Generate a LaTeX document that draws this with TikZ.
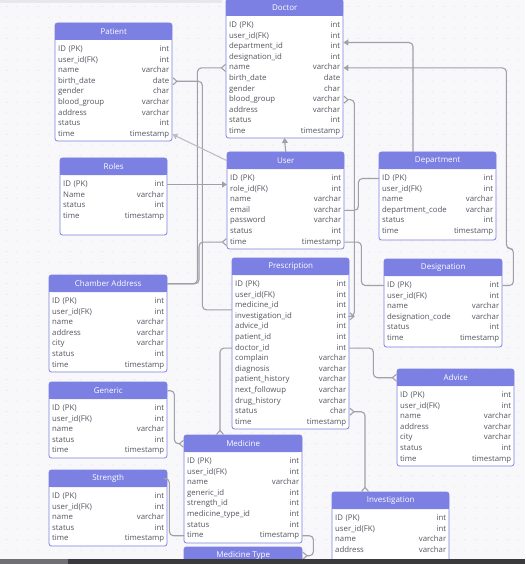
\documentclass[tikz,border=0pt]{standalone}
\usepackage{fontspec}
\setmainfont{Open Sans}
\usetikzlibrary{arrows.meta,calc}
\definecolor{hdcol}{RGB}{124,128,226}
\definecolor{txcol}{RGB}{84,84,96}
\definecolor{lncol}{RGB}{160,160,170}
\definecolor{bgcol}{RGB}{248,248,250}
\definecolor{dotcol}{RGB}{214,214,222}
\definecolor{topcol}{RGB}{232,232,236}
\definecolor{barcol}{RGB}{58,58,60}
\definecolor{barcolb}{RGB}{112,112,116}

\tikzset{
  hd/.style={inner sep=0pt, minimum height=17pt, text=white, font=\fontsize{8}{9}\selectfont},
  fld/.style={inner xsep=3pt, inner ysep=0pt, text height=6pt, text depth=2pt, align=left, text=txcol, font=\fontsize{7.8}{9}\selectfont},
  conn/.style={draw=lncol, line width=1.1pt, rounded corners=4pt},
  crow/.tip={Straight Barb[reversed,length=4pt,width=7pt]},
  tri/.tip={Triangle[length=5pt,width=6pt]}
}

% table frame and title
\newcommand{\erframe}[6]{%
  \filldraw[draw=hdcol, fill=white, line width=0.8pt, rounded corners=2.5pt] (#2,#3) rectangle ++(#4,#5);
  \fill[hdcol, rounded corners=2.5pt] (#2,#3) rectangle ++(#4,17);
  \fill[hdcol] (#2,#3+8) rectangle ++(#4,9);
  \node[hd, minimum width=#4pt, anchor=north west] (#1) at (#2,#3) {#6};
  \coordinate (#1-b) at (#2+#4/2,#3+#5);
}
% table with its rows
\newcommand{\ertab}[7]{%
  \erframe{#1}{#2}{#3}{#4}{#5}{#6}
  \pgfmathsetmacro\ertw{#4-6}
  \foreach \fd/\ty [count=\i] in {#7}
    \node[fld, text width=\ertw pt, anchor=west] (#1-\i) at (#2,#3+26.5+\i*10.6-10.6) {\fd\hfill\ty};
}

\begin{document}
\begin{tikzpicture}[x=1pt,y=-1pt]
  \useasboundingbox (0,0) rectangle (525,564);
  \clip (0,0) rectangle (525,564);
  % background
  \fill[bgcol] (0,0) rectangle (525,564);
  \foreach \x in {0,...,49}
    \foreach \y in {0,...,53} \fill[dotcol] (6.5+\x*10.66,6.5+\y*10.66) circle (0.5pt);
  \fill[topcol] (0,0) rectangle (222,3);

  % tables
  \ertab{pat}{55}{23}{117}{118}{Patient}{ID (PK)/int,user\_id(FK)/int,name/varchar,birth\_date/date,gender/char,blood\_group/varchar,address/varchar,status/int,time/timestamp}
  \ertab{doc}{226}{-1}{117}{139}{Doctor}{ID (PK)/int,user\_id(FK)/int,department\_id/int,designation\_id/int,name/varchar,birth\_date/date,gender/char,blood\_group/varchar,address/varchar,status/int,time/timestamp}
  \ertab{rol}{60}{158}{107}{77}{Roles}{ID (PK)/int,Name/varchar,status/int,time/timestamp}
  \ertab{usr}{227}{152}{117}{97}{User}{ID (PK)/int,role\_id(FK)/int,name/varchar,email/varchar,password/varchar,status/int,time/timestamp}
  \ertab{dep}{379}{152}{117}{88}{Department}{ID (PK)/int,user\_id(FK)/int,name/varchar,department\_code/varchar,status/int,time/timestamp}
  \ertab{des}{384}{259}{118}{88}{Designation}{ID (PK)/int,user\_id(FK)/int,name/varchar,designation\_code/varchar,status/int,time/timestamp}
  \ertab{pre}{232}{258}{117}{171}{Prescription}{ID (PK)/int,user\_id(FK)/int,medicine\_id/int,investigation\_id/int,advice\_id/int,patient\_id/int,doctor\_id/int,complain/varchar,diagnosis/varchar,patient\_history/varchar,next\_followup/varchar,drug\_history/varchar,status/char,time/timestamp}
  \ertab{cha}{49}{275}{118}{97}{Chamber Address}{ID (PK)/int,user\_id(FK)/int,name/varchar,address/varchar,city/varchar,status/int,time/timestamp}
  \ertab{gen}{49}{382}{118}{76}{Generic}{ID (PK)/int,user\_id(FK)/int,name/varchar,status/int,time/timestamp}
  \ertab{str}{49}{470}{118}{76}{Strength}{ID (PK)/int,user\_id(FK)/int,name/varchar,status/int,time/timestamp}
  \ertab{med}{184}{435}{118}{108}{Medicine}{ID (PK)/int,user\_id(FK)/int,name/varchar,generic\_id/int,strength\_id/int,medicine\_type\_id/int,status/int,time/timestamp}
  \erframe{mty}{184}{547}{118}{40}{Medicine Type}
  \ertab{adv}{397}{369}{117}{97}{Advice}{ID (PK)/int,user\_id(FK)/int,name/varchar,address/varchar,city/varchar,status/int,time/timestamp}
  \ertab{inv}{332}{492}{117}{95}{Investigation}{ID (PK)/int,user\_id(FK)/int,name/varchar,address/varchar}

  % left side
  \draw[conn,-crow] (cha.east) -- ++(30,0) |- (doc-5.west);
  \draw[conn,crow-] (usr-7.west) -- ++(-28,0) |- (cha.east);
  \draw[conn,crow-] (pat-4.east) -- ++(30,0) |- (pre-3.south west);
  \draw[conn,-tri,draw=lncol!70] (usr.west) -- (pat-9.east);
  \draw[conn,-tri] (rol-1.east) -- (rol-1.east -| usr.west);
  \draw[conn,-tri] (usr.north) -- (doc-b);
  % on right
  \draw[conn,-tri] ($(dep.north west)+(34,0)$) |- (doc-3.north east);
  \draw[conn,-tri] (des-1.east) -- ++(11,0) -- ++(0,-37) -- ++(-7,0) |- (doc-5.east);
  \draw[conn] (usr-4.east) -- ++(14,0) |- (dep-1.west);
  \draw[conn] (usr-7.east) -- ++(17,0) |- (des-1.west);
  \draw[conn,crow-crow] (doc-8.east) -- ++(11,0) |- (pre-4.east);
  \draw[conn,-crow] (pre-7.east) -- ++(24,0) |- (adv.west);
  \draw[conn,crow-crow] (pre-13.east) -| ($(inv.north west)+(33,0)$);
  % medicine
  \draw[conn,-crow] (pre-7.west) -| ($(med.north west)+(36,0)$);
  \draw[conn,-crow] (gen.east) -- ++(7,0) |- (med.west);
  \draw[conn] (str.east) -- ++(2,0) |- (med-8.west);
  \draw[conn,-crow] (med-8.east) -- ++(11,0) |- (mty.east);

  % bottom bar
  \fill[barcol] (0,559) rectangle (525,564);
  \fill[barcolb] (0,559) rectangle (68,564);
\end{tikzpicture}
\end{document}
